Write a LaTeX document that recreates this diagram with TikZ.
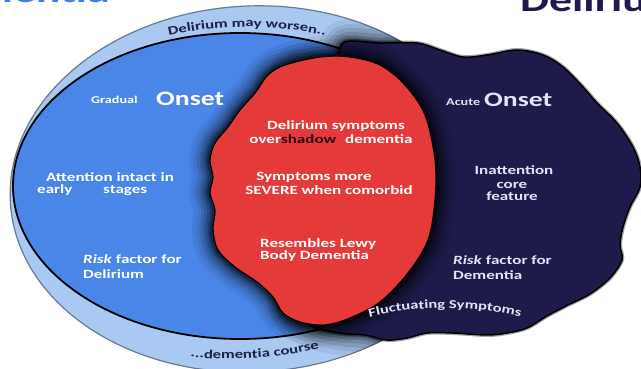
\documentclass[tikz,border=0pt]{standalone}
\usepackage{fontspec}
\setmainfont{Carlito}[FakeStretch=1.35]
\usetikzlibrary{decorations.text}
\definecolor{ringlight}{HTML}{A9C9F2}
\definecolor{ringline}{HTML}{6A7A90}
\definecolor{blueE}{HTML}{4A86E8}
\definecolor{redB}{HTML}{E53A3A}
\definecolor{navyB}{HTML}{1E1B4B}
\definecolor{lav}{HTML}{E4E2F4}
\definecolor{ringtext}{HTML}{1B2145}
\definecolor{titleblue}{HTML}{3F80E4}
\definecolor{shadowc}{HTML}{2A0808}
\newcommand\bodyfnt{\fontsize{12.6}{13.5}\selectfont\bfseries}
\newcommand\bigfnt{\fontsize{20.5}{22}\selectfont\bfseries}
\newcommand\smallfnt{\fontsize{10.5}{12}\selectfont\bfseries}
\newcommand\ringfnt{\fontsize{12.4}{13}\selectfont\bfseries\color{ringtext}}
\newcommand\flucfnt{\fontsize{12.2}{13}\selectfont\bfseries\color{lav}}
\tikzset{
  wt/.style={inner sep=0pt, font=\bodyfnt, text=white},
  lt/.style={inner sep=0pt, font=\bodyfnt, text=lav},
  bigt/.style={inner sep=0pt, font=\bigfnt},
  smallt/.style={inner sep=0pt, font=\smallfnt},
  titlet/.style={inner sep=0pt, font=\fontsize{34}{34}\selectfont\bfseries},
  outerell/.style={rotate around={3:(252,179)}},
}
\def\redpath{plot[smooth cycle, tension=0.55] coordinates {(285,303) (320,311) (350,311) (380,303) (405,283) (425,253) (435,208) (435,168) (428,128) (408,95) (380,66) (350,50) (325,43) (300,46) (283,55) (273,71) (257,86) (235,101) (218,118) (213,138) (215,158) (210,175) (213,191) (210,208) (215,225) (228,241) (240,258) (255,275) (268,293)}}
\def\navypath{plot[smooth cycle, tension=0.55] coordinates {(335,308) (345,326) (380,325) (417,325) (440,318) (463,311) (487,313) (517,318) (543,313) (563,301) (583,281) (597,265) (617,245) (633,221) (640,201) (640,181) (630,161) (623,141) (620,123) (622,108) (610,90) (590,74) (568,63) (547,52) (527,40) (507,35) (487,33) (453,35) (427,35) (407,30) (387,28) (365,33) (340,35) (310,43) (290,68) (280,168) (290,288) (310,303)}}
\begin{document}
\begin{tikzpicture}[x=1pt,y=1pt]
\useasboundingbox (0,0) rectangle (641,368);
\clip (0,0) rectangle (641,368);
\fill[white] (0,0) rectangle (641,368);
% title fragments
\node[titlet, text=titleblue, anchor=base east] (tdem) at (110,366) {Dementia};
\node[titlet, text=navyB, anchor=base west] (tdel) at (520,357) {Delirium};
% ellipses
\draw[outerell, fill=ringlight, draw=ringline, line width=1.2] (252,179) ellipse[x radius=242, y radius=183];
\draw[fill=blueE, draw=black, line width=1.8] (240,182) ellipse[x radius=227, y radius=153];
% ring texts
\path[decorate, decoration={text along path, text align=center, text={|\ringfnt|Delirium may worsen..}}]
  ([shift={(247,182)}]145:240 and 159) arc[start angle=145, end angle=35, x radius=240, y radius=159];
\path[decorate, decoration={text along path, text align=center, text={|\ringfnt|...dementia course}}]
  ([shift={(230,182)}]246:260 and 173) arc[start angle=246, end angle=306, x radius=260, y radius=173];
% navy blob
\begin{scope}
  \clip[outerell] (252,179) ellipse[x radius=242, y radius=183];
  \foreach \w/\o in {44/0.06, 34/0.08, 26/0.1, 18/0.13, 11/0.18, 6/0.22} {
    \draw[line width=\w, draw=black, opacity=\o, line join=round] \navypath;
  }
\end{scope}
\draw[line width=4, draw=black, opacity=0.35, line join=round] \navypath;
\fill[navyB] \navypath;
\draw[black, line width=1.5] \navypath;
% red blob
\foreach \w/\o in {42/0.06, 34/0.08, 27/0.1, 21/0.13, 15/0.17, 10/0.22, 6/0.3} {
  \draw[line width=\w, draw=black, opacity=\o, line join=round] \redpath;
}
\fill[redB] \redpath;
\draw[black, line width=1.2] \redpath;
% blue texts
\node[smallt, text=white, anchor=base west] (grad) at (91,265) {Gradual};
\node[bigt, text=white, anchor=base west] (gon) at (156,263) {Onset};
\node[wt, anchor=base west] (att1) at (46,187) {Attention intact in};
\node[wt, anchor=base west] (att2) at (37,175) {early};
\node[wt, anchor=base west] (att3) at (103,175) {stages};
\node[wt, anchor=base west] (rd1) at (83,105) {\textit{Risk} factor for};
\node[wt, anchor=base west] (rd2) at (83,90) {Delirium};
% red texts
\node[wt, anchor=base] (r1) at (336,239) {Delirium symptoms};
\node[wt, anchor=base] (r2) at (331,225) {over{\color{shadowc}shadow}\hspace{5pt} dementia};
\node[wt, anchor=base] (r3) at (314,188) {Symptoms more};
\node[wt, anchor=base] (r4) at (329,174) {SEVERE when comorbid};
\node[wt, anchor=base west] (r5) at (260,121) {Resembles Lewy};
\node[wt, anchor=base west] (r6) at (260,109) {Body Dementia};
% navy texts
\node[smallt, text=lav, anchor=base west] (acu) at (446,263) {Acute};
\node[bigt, text=lav, anchor=base west] (aon) at (484,262) {Onset};
\node[lt, anchor=base] (in1) at (514,194) {Inattention};
\node[lt, anchor=base] (in2) at (512,180) {core};
\node[lt, anchor=base] (in3) at (512,168) {feature};
\node[lt, anchor=base west] (rm1) at (453,104) {\textit{Risk} factor for};
\node[lt, anchor=base west] (rm2) at (453,89) {Dementia};
\path[decorate, decoration={text along path, text align=center, text={|\flucfnt|Fluctuating Symptoms}}]
  ([shift={(445,-260)}]108:320) arc[start angle=108, end angle=72, radius=320];
\end{tikzpicture}
\end{document}
